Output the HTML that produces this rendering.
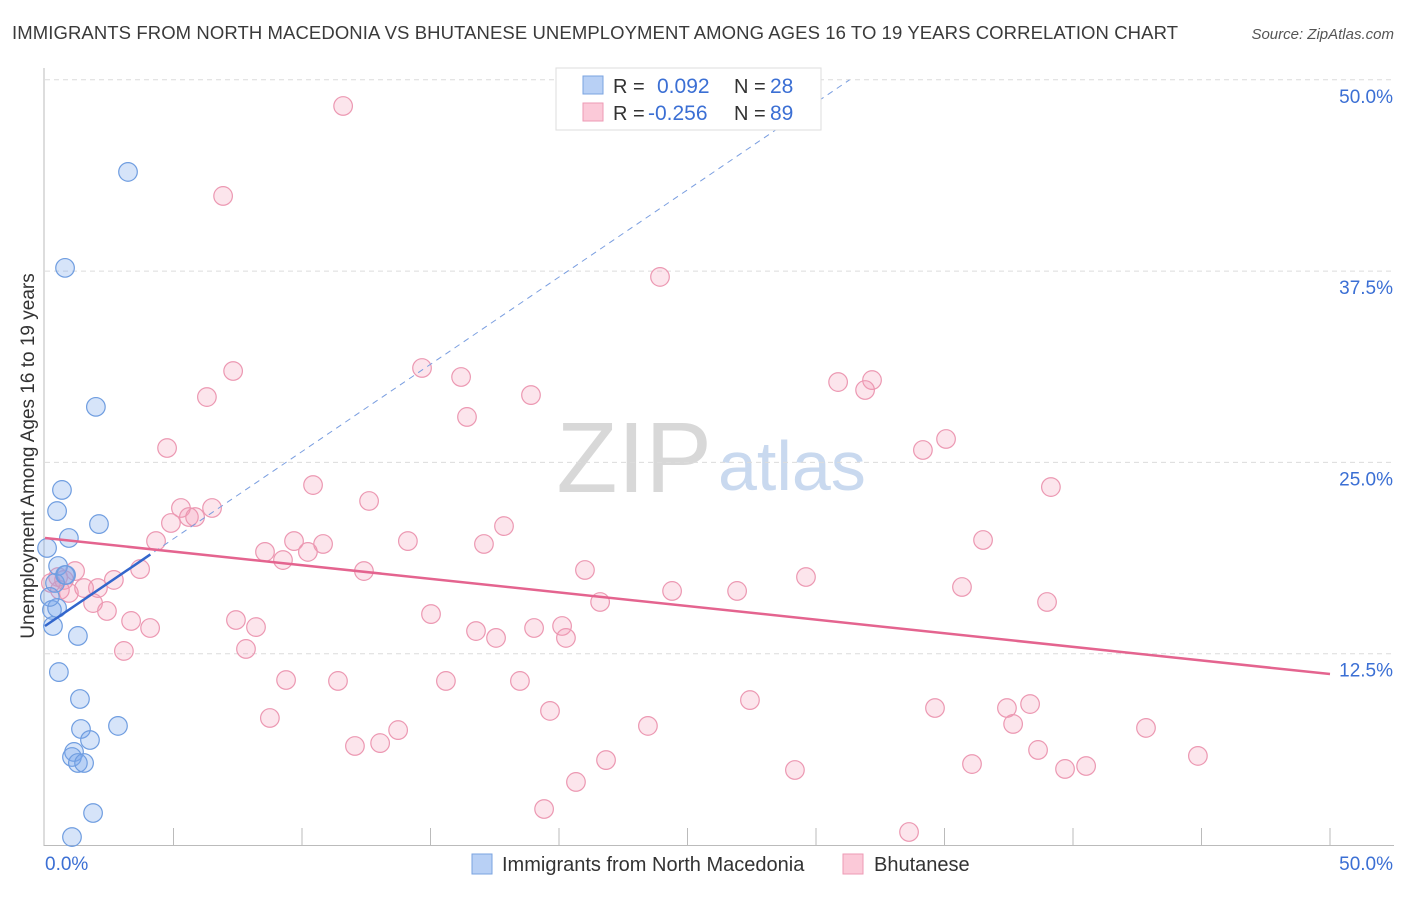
<!DOCTYPE html>
<html><head><meta charset="utf-8"><style>
body{margin:0;background:#fff;font-family:"Liberation Sans",sans-serif}
svg text{font-family:"Liberation Sans",sans-serif}
</style></head><body>
<svg id="c" width="1406" height="892">
<text x="12" y="39" font-size="18.5" fill="#3a3a3a" textLength="1166">IMMIGRANTS FROM NORTH MACEDONIA VS BHUTANESE UNEMPLOYMENT AMONG AGES 16 TO 19 YEARS CORRELATION CHART</text>
<text x="1394" y="39" font-size="15" fill="#555" font-style="italic" text-anchor="end">Source: ZipAtlas.com</text>
<text transform="translate(34,456) rotate(-90)" font-size="19" fill="#333" text-anchor="middle">Unemployment Among Ages 16 to 19 years</text>
<text x="712" y="492" font-size="100" fill="#d8d8d8" text-anchor="end" font-family="Liberation Serif">ZIP</text>
<text x="718" y="490" font-size="70" fill="#c9d9ef">atlas</text>
<g id="grid"></g><g id="pts"></g><g id="lines"></g>
<g>
<rect x="556" y="68" width="265" height="62" fill="#fff" stroke="#ddd"/>
<rect x="583" y="76" width="20" height="18" fill="#b8d0f5" stroke="#7aa3e0"/>
<rect x="583" y="103" width="20" height="18" fill="#fbc9d8" stroke="#ee9ab4"/>
<text x="613" y="93" font-size="20" fill="#333">R =</text>
<text x="657" y="93" font-size="21" fill="#3b6fd4">0.092</text>
<text x="734" y="93" font-size="20" fill="#333">N =</text>
<text x="770" y="93" font-size="21" fill="#3b6fd4">28</text>
<text x="613" y="120" font-size="20" fill="#333">R =</text>
<text x="648" y="120" font-size="21" fill="#3b6fd4">-0.256</text>
<text x="734" y="120" font-size="20" fill="#333">N =</text>
<text x="770" y="120" font-size="21" fill="#3b6fd4">89</text>
</g>
<g>
<rect x="472" y="854" width="20" height="20" fill="#b8d0f5" stroke="#7aa3e0"/>
<text x="502" y="871" font-size="20" fill="#333">Immigrants from North Macedonia</text>
<rect x="843" y="854" width="20" height="20" fill="#fbc9d8" stroke="#ee9ab4"/>
<text x="874" y="871" font-size="20" fill="#333">Bhutanese</text>
</g>
</svg>
<script>
const yTicks=[12.5,25,37.5,50];
const yTickLabels=["12.5%","25.0%","37.5%","50.0%"];
const blueX=[3.23,0.78,1.98,0.66,0.47,2.10,0.93,0.08,0.51,0.78,0.39,0.27,0.47,0.31,1.28,0.54,1.36,1.40,2.84,1.75,1.13,1.05,1.28,1.52,1.87,1.05,0.82,0.19];
const blueY=[43.98,37.71,28.63,23.2,21.82,20.97,20.06,19.41,18.23,17.64,17.12,15.36,15.49,14.31,13.66,11.30,9.54,7.58,7.78,6.86,6.08,5.75,5.36,5.36,2.09,0.52,17.64,16.21];
const pinkX=[11.60,6.93,23.93,7.32,14.67,16.19,6.30,18.91,30.86,32.18,31.91,16.42,4.75,35.06,34.16,10.43,39.14,12.61,5.29,6.50,4.90,5.60,5.84,17.86,36.50,4.32,14.12,9.69,10.82,17.08,8.56,10.23,9.26,3.70,1.17,12.41,21.01,0.51,0.74,2.68,29.61,0.23,2.06,1.52,0.58,0.93,24.40,26.93,35.68,21.60,1.87,38.99,2.41,15.02,7.43,3.35,4.09,8.21,16.77,19.03,20.12,17.55,20.27,3.07,7.82,9.38,11.40,15.60,18.48,27.43,34.63,37.43,38.33,19.65,8.75,37.67,23.46,42.84,13.74,13.04,12.06,38.64,44.86,21.83,36.07,40.51,39.69,29.18,20.66,19.42,33.62];
const pinkY=[48.29,42.41,37.12,30.97,31.17,30.58,29.27,29.40,30.25,30.38,29.73,27.97,25.94,26.53,25.81,23.52,23.39,22.48,22.02,22.02,21.04,21.43,21.43,20.84,19.93,19.86,19.86,19.86,19.67,19.67,19.15,19.15,18.62,18.03,17.90,17.90,17.97,17.51,17.32,17.32,17.51,17.12,16.79,16.79,16.66,16.47,16.60,16.60,16.86,15.88,15.81,15.88,15.29,15.09,14.70,14.64,14.18,14.24,13.98,14.18,14.31,13.53,13.53,12.68,12.81,10.78,10.72,10.72,10.72,9.47,8.95,8.95,9.21,8.76,8.30,7.91,7.78,7.65,7.51,6.66,6.47,6.21,5.82,5.55,5.29,5.16,4.97,4.90,4.12,2.35,0.85];
const blueTrend=[14.31,1.14,4.1];
const pinkTrend=[20.06,11.17];
const NS="http://www.w3.org/2000/svg";
const X=v=>45+v*25.7, Y=v=>845-v*15.304;
function mk(t,a,p){const e=document.createElementNS(NS,t);for(const k in a)e.setAttribute(k,a[k]);p.appendChild(e);return e;}
const g=document.getElementById('grid');
yTicks.forEach((t,i)=>{
 const l=mk('line',{x1:45,x2:1394,y1:Y(t),y2:Y(t),stroke:'#dcdcdc','stroke-dasharray':'5,4'},g);
 
 
 const tx=mk('text',{x:1393,y:Y(t)+23,'font-size':19,fill:'#3b6fd4','text-anchor':'end'},g);
 tx.textContent=yTickLabels[i];
 
 
});
mk('line',{x1:44,x2:44,y1:68,y2:846,stroke:'#bbb'},g);
mk('line',{x1:44,x2:1394,y1:845.5,y2:845.5,stroke:'#bbb'},g);
for(let i=1;i<=10;i++){const t=mk('line',{x1:X(i*5),x2:X(i*5),y1:828,y2:846,stroke:'#bbb'},g);
 
 }
const x0=mk('text',{x:45,y:870,'font-size':19,fill:'#3b6fd4'},g);x0.textContent='0.0%';


const x1=mk('text',{x:1393,y:870,'font-size':19,fill:'#3b6fd4','text-anchor':'end'},g);x1.textContent='50.0%';


const p=document.getElementById('pts');
pinkX.forEach((v,i)=>{const c=mk('circle',{cx:X(v),cy:Y(pinkY[i]),r:9.3,fill:'rgba(244,150,178,0.25)',stroke:'#ec98b2','stroke-width':1.2},p);
 
 });
blueX.forEach((v,i)=>{const c=mk('circle',{cx:X(v),cy:Y(blueY[i]),r:9.3,fill:'rgba(120,165,235,0.3)',stroke:'#6f9de0','stroke-width':1.2},p);
 
 });
const L=document.getElementById('lines');
const xe=(50-blueTrend[0])/blueTrend[1];
const d=mk('line',{x1:X(0),y1:Y(blueTrend[0]),x2:X(xe),y2:Y(50),stroke:'#7a9ee0','stroke-width':1,'stroke-dasharray':'6,5'},L);


const b=mk('line',{x1:X(0),y1:Y(blueTrend[0]),x2:X(blueTrend[2]),y2:Y(blueTrend[0]+blueTrend[1]*blueTrend[2]),stroke:'#3366cc','stroke-width':2.5},L);


const pk=mk('line',{x1:X(0),y1:Y(pinkTrend[0]),x2:X(50),y2:Y(pinkTrend[1]),stroke:'#e4648f','stroke-width':2.5},L);


</script>
</body></html>
